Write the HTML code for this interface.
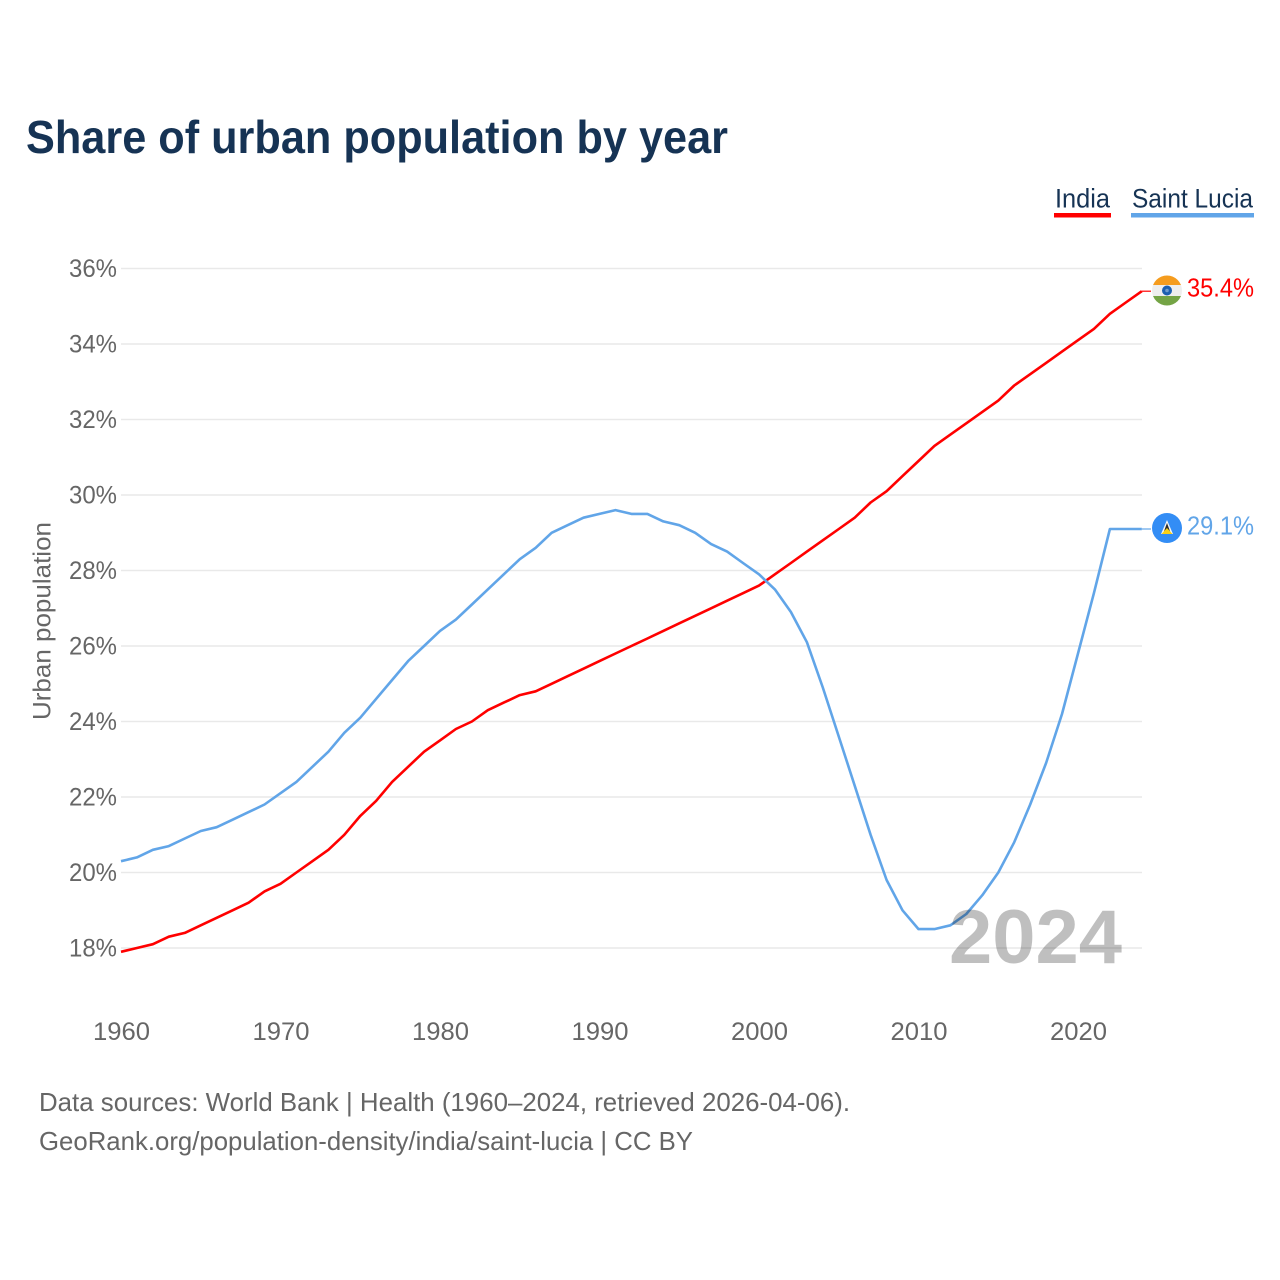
<!DOCTYPE html>
<html lang="en">
<head>
<meta charset="utf-8">
<title>Share of urban population by year</title>
<style>
html,body{margin:0;padding:0;background:#fff;width:1280px;height:1280px;overflow:hidden}
svg{display:block}
text{font-family:"Liberation Sans",sans-serif}
</style>
</head>
<body>
<svg id="chart" xmlns="http://www.w3.org/2000/svg" width="1280" height="1280" viewBox="0 0 1280 1280">
  <rect width="1280" height="1280" fill="#fff"/>
  <text x="26" y="153" font-size="46" font-weight="700" fill="#163354" textLength="702" lengthAdjust="spacingAndGlyphs">Share of urban population by year</text>

  <g>
    <text x="1055" y="207.5" font-size="27" fill="#163354" textLength="55" lengthAdjust="spacingAndGlyphs">India</text>
    <rect x="1054" y="213" width="57" height="4.5" fill="#ff0000"/>
  </g>
  <g>
    <text x="1132" y="207.5" font-size="27" fill="#163354" textLength="121" lengthAdjust="spacingAndGlyphs">Saint Lucia</text>
    <rect x="1131" y="213" width="123" height="4.5" fill="#61a5e8"/>
  </g>

  <g id="grid"></g>
  <g id="yticks"></g>
  <g id="xticks"></g>

  <text transform="translate(50.5,621) rotate(-90)" text-anchor="middle" font-size="25" fill="#666666" textLength="198" lengthAdjust="spacingAndGlyphs">Urban population</text>

  <g id="series"></g>

  <text x="1122" y="963" text-anchor="end" font-size="76" font-weight="700" fill="#000" fill-opacity="0.25" textLength="173" lengthAdjust="spacingAndGlyphs">2024</text>

  <g>
    <clipPath id="clipIndia"><circle cx="1167" cy="290.5" r="15"/></clipPath>
    <g clip-path="url(#clipIndia)">
      <rect x="1152" y="275" width="30" height="10" fill="#f59c1e"/>
      <rect x="1152" y="285" width="30" height="11" fill="#eeeeee"/>
      <rect x="1152" y="296" width="30" height="11" fill="#74a445"/>
    </g>
    <circle cx="1167" cy="290.5" r="5" fill="#1c5fb0"/>
    <circle cx="1167" cy="290.5" r="1.8" fill="#6d9bd0"/>
  </g>

  <g>
    <circle cx="1167" cy="528" r="15" fill="#338df5"/>
    <polygon points="1167,520 1173,534 1161,534" fill="#f8f8f8"/>
    <polygon points="1167,523 1171,534 1163,534" fill="#2c2c2c"/>
    <polygon points="1167,528 1172.5,534 1161.5,534" fill="#fcd116"/>
  </g>

  <text x="1187" y="296.5" font-size="26" fill="#ff0000" textLength="67" lengthAdjust="spacingAndGlyphs">35.4%</text>
  <text x="1187" y="534.5" font-size="26" fill="#61a5e8" textLength="67" lengthAdjust="spacingAndGlyphs">29.1%</text>

  <text x="39" y="1111" font-size="26" fill="#666666" textLength="811" lengthAdjust="spacingAndGlyphs">Data sources: World Bank | Health (1960–2024, retrieved 2026-04-06).</text>
  <text x="39" y="1150" font-size="26" fill="#666666" textLength="654" lengthAdjust="spacingAndGlyphs">GeoRank.org/population-density/india/saint-lucia | CC BY</text>
</svg>
<script>
const startYear = 1960;
const xTickYears = [1960, 1970, 1980, 1990, 2000, 2010, 2020];
const yTickValues = [18, 20, 22, 24, 26, 28, 30, 32, 34, 36];
const indiaValues = [17.9,18.0,18.1,18.3,18.4,18.6,18.8,19.0,19.2,19.5,19.7,20.0,20.3,20.6,21.0,21.5,21.9,22.4,22.8,23.2,23.5,23.8,24.0,24.3,24.5,24.7,24.8,25.0,25.2,25.4,25.6,25.8,26.0,26.2,26.4,26.6,26.8,27.0,27.2,27.4,27.6,27.9,28.2,28.5,28.8,29.1,29.4,29.8,30.1,30.5,30.9,31.3,31.6,31.9,32.2,32.5,32.9,33.2,33.5,33.8,34.1,34.4,34.8,35.1,35.4];
const saintLuciaValues = [20.3,20.4,20.6,20.7,20.9,21.1,21.2,21.4,21.6,21.8,22.1,22.4,22.8,23.2,23.7,24.1,24.6,25.1,25.6,26.0,26.4,26.7,27.1,27.5,27.9,28.3,28.6,29.0,29.2,29.4,29.5,29.6,29.5,29.5,29.3,29.2,29.0,28.7,28.5,28.2,27.9,27.5,26.9,26.1,24.9,23.6,22.3,21.0,19.8,19.0,18.5,18.5,18.6,18.9,19.4,20.0,20.8,21.8,22.9,24.2,25.8,27.4,29.1,29.1,29.1];

const SVG_NS = 'http://www.w3.org/2000/svg';
function xScale(year) { return 121 + (year - 1960) * 15.95; }
function yScale(v) { return 948 - (v - 18) * 37.75; }

const grid = document.getElementById('grid');
const yticks = document.getElementById('yticks');
const xticks = document.getElementById('xticks');
const series = document.getElementById('series');

yTickValues.forEach(function (v) {
  const line = document.createElementNS(SVG_NS, 'line');
  
  
  line.setAttribute('x1', 121);
  line.setAttribute('x2', 1142);
  line.setAttribute('y1', yScale(v));
  line.setAttribute('y2', yScale(v));
  line.setAttribute('stroke', '#e9e9e9');
  line.setAttribute('stroke-width', 1.5);
  grid.appendChild(line);

  const label = document.createElementNS(SVG_NS, 'text');
  
  
  label.setAttribute('x', 117);
  label.setAttribute('y', yScale(v) + 8.5);
  label.setAttribute('text-anchor', 'end');
  label.setAttribute('font-size', 25);
  label.setAttribute('fill', '#666666');
  label.setAttribute('textLength', 48);
  label.setAttribute('lengthAdjust', 'spacingAndGlyphs');
  label.textContent = v + '%';
  yticks.appendChild(label);
});

xTickYears.forEach(function (year) {
  const label = document.createElementNS(SVG_NS, 'text');
  
  
  label.setAttribute('x', xScale(year) + 0.5);
  label.setAttribute('y', 1040);
  label.setAttribute('text-anchor', 'middle');
  label.setAttribute('font-size', 25);
  label.setAttribute('fill', '#666666');
  label.setAttribute('textLength', 57);
  label.setAttribute('lengthAdjust', 'spacingAndGlyphs');
  label.textContent = String(year);
  xticks.appendChild(label);
});

function pathFor(values) {
  const pts = values.map(function (v, i) {
    return xScale(startYear + i).toFixed(1) + ',' + yScale(v).toFixed(1);
  });
  return 'M' + pts.join(' L');
}

function endLeader(values) {
  return 'M' + xScale(startYear + values.length - 1).toFixed(1) + ',' + yScale(values[values.length - 1]).toFixed(1) + ' L1151,' + yScale(values[values.length - 1]).toFixed(1);
}

const indiaLine = document.createElementNS(SVG_NS, 'path');


indiaLine.setAttribute('d', pathFor(indiaValues));
indiaLine.setAttribute('fill', 'none');
indiaLine.setAttribute('stroke', '#ff0000');
indiaLine.setAttribute('stroke-width', 2.6);
indiaLine.setAttribute('stroke-linejoin', 'round');
series.appendChild(indiaLine);

const indiaLeader = document.createElementNS(SVG_NS, 'path');


indiaLeader.setAttribute('d', endLeader(indiaValues));
indiaLeader.setAttribute('fill', 'none');
indiaLeader.setAttribute('stroke', '#ff0000');
indiaLeader.setAttribute('stroke-width', 1.2);
series.appendChild(indiaLeader);

const luciaLine = document.createElementNS(SVG_NS, 'path');


luciaLine.setAttribute('d', pathFor(saintLuciaValues));
luciaLine.setAttribute('fill', 'none');
luciaLine.setAttribute('stroke', '#61a5e8');
luciaLine.setAttribute('stroke-width', 2.6);
luciaLine.setAttribute('stroke-linejoin', 'round');
series.appendChild(luciaLine);

const luciaLeader = document.createElementNS(SVG_NS, 'path');


luciaLeader.setAttribute('d', endLeader(saintLuciaValues));
luciaLeader.setAttribute('fill', 'none');
luciaLeader.setAttribute('stroke', '#61a5e8');
luciaLeader.setAttribute('stroke-width', 1.2);
series.appendChild(luciaLeader);
</script>
</body>
</html>
